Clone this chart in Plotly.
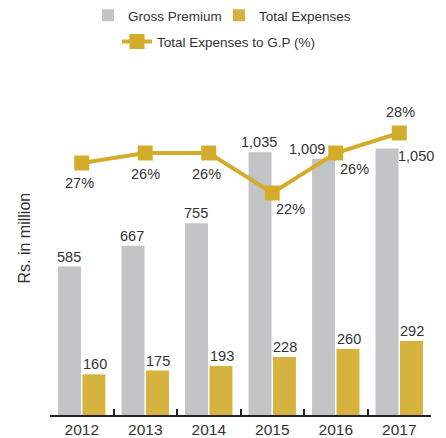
import plotly.graph_objects as go

years = ["2012", "2013", "2014", "2015", "2016", "2017"]
gross_premium = [585, 667, 755, 1035, 1009, 1050]
total_expenses = [160, 175, 193, 228, 260, 292]
ratio_plot = [25.0, 26.0, 26.0, 22.0, 26.0, 28.0]
ratio_labels = ["27%", "26%", "26%", "22%", "26%", "28%"]
gross_labels = ["585", "667", "755", "1,035", "1,009", "1,050"]
exp_labels = ["160", "175", "193", "228", "260", "292"]

GREY = "#c3c4c6"
GOLD = "#d6b23e"
LINE = "#d4ac2b"
TXT = "#333333"
FONT = "Liberation Sans"

fig = go.Figure()
fig.add_trace(go.Bar(x=years, y=gross_premium, name="Gross Premium",
                     marker=dict(color=GREY, line=dict(width=0)), legend="legend"))
fig.add_trace(go.Bar(x=years, y=total_expenses, name="Total Expenses",
                     marker=dict(color=GOLD, line=dict(width=0)), legend="legend3"))
fig.add_trace(go.Scatter(x=years, y=ratio_plot, name="Total Expenses to G.P (%)",
                         mode="lines+markers", yaxis="y2",
                         line=dict(color=LINE, width=4),
                         marker=dict(symbol="square", size=15, color=LINE),
                         legend="legend2"))

LBL = dict(size=14.5, color=TXT, family=FONT)
ann = []
g_shift = [(0, 0), (0, 0), (0, 0), (0, 0), (-16, 0), (30, -18)]
for i, (v, t) in enumerate(zip(gross_premium, gross_labels)):
    dx, dy = g_shift[i]
    ann.append(dict(x=i, y=v, text=t, xref="x", yref="y", showarrow=False,
                    xshift=-13 + dx, yshift=dy, yanchor="bottom", font=LBL))
for i, (v, t) in enumerate(zip(total_expenses, exp_labels)):
    ann.append(dict(x=i, y=v, text=t, xref="x", yref="y", showarrow=False,
                    xshift=13, yanchor="bottom", font=LBL))
r_shift = [(-2, -20), (0, -21), (-2, -21), (18, -16), (19, -16), (1, 21)]
for i, (v, t) in enumerate(zip(ratio_plot, ratio_labels)):
    dx, dy = r_shift[i]
    ann.append(dict(x=i, y=v, text=t, xref="x", yref="y2", showarrow=False,
                    xshift=dx, yshift=dy, yanchor="middle", font=LBL))
ann.append(dict(x=-37 / 381, y=(415 - 238) / 330, xref="paper", yref="paper",
                text="Rs. in million", showarrow=False, textangle=-90,
                font=dict(size=16, color=TXT, family=FONT)))

leg_common = dict(orientation="h", xref="container", yref="container",
                  xanchor="left", yanchor="top",
                  font=dict(size=13.5, color=TXT, family=FONT),
                  itemwidth=30, bgcolor="rgba(0,0,0,0)")

fig.update_layout(
    width=446, height=438,
    margin=dict(l=50, r=15, t=85, b=23, autoexpand=False),
    paper_bgcolor="white", plot_bgcolor="white",
    barmode="group", bargap=0.23, bargroupgap=0.06,
    font=dict(family=FONT, size=14, color=TXT),
    xaxis=dict(type="category", range=[-0.5, 5.5], autorange=False, automargin=False,
               showgrid=False, showline=True, linecolor="#222",
               linewidth=1.5, ticks="inside", tickson="boundaries", ticklen=6,
               tickcolor="#222", tickwidth=1.5,
               tickfont=dict(size=15.5, color=TXT, family=FONT)),
    yaxis=dict(range=[0, 1300], autorange=False, automargin=False, showgrid=False,
               showticklabels=False, zeroline=False, showline=False, ticks=""),
    yaxis2=dict(range=[-0.2, 32.8], autorange=False, automargin=False, overlaying="y",
                side="right", showgrid=False, showticklabels=False, zeroline=False,
                showline=False, ticks=""),
    legend=dict(x=88 / 446, y=1.0, **leg_common),
    legend3=dict(x=219 / 446, y=1.0, **leg_common),
    legend2=dict(x=117 / 446, y=0.94, **leg_common),
    annotations=ann,
    showlegend=True,
)

fig.write_html("out.html", config={"displayModeBar": False},
               post_script="document.body.style.margin='0';document.body.style.overflow='hidden';")
